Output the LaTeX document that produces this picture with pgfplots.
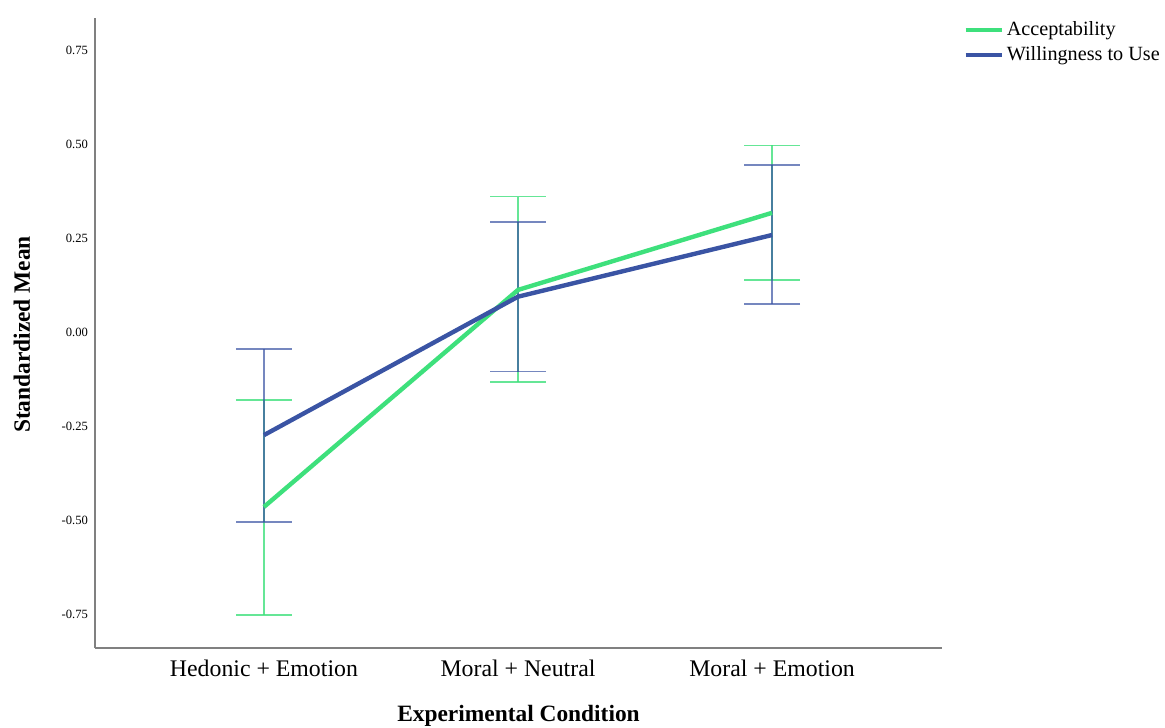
\documentclass[border=0pt]{standalone}
\usepackage{pgfplots}
\pgfplotsset{compat=1.18}
\usepackage{pgfplotstable}
\usepackage{fontspec}
\setmainfont{Liberation Serif}
\definecolor{gacc}{HTML}{3EE07C}
\definecolor{bwil}{HTML}{3A54A4}
\pgfplotstableread{
x y ep em
0 -0.465 0.284 0.288
1 0.112 0.248 0.245
2 0.317 0.179 0.178
}\acc
\pgfplotstableread{
x y ep em
0 -0.274 0.229 0.231
1 0.094 0.198 0.199
2 0.258 0.187 0.183
}\wil
\begin{document}
\begin{tikzpicture}
\useasboundingbox (0,0) rectangle (582.5pt,363.5pt);
\begin{axis}[
  at={(47.5pt,39.5pt)}, anchor=south west,
  scale only axis, width=423.5pt, height=315pt,
  xmin=-0.665, xmax=2.669, ymin=-0.840, ymax=0.835,
  axis x line*=bottom, axis y line*=left,
  axis line style={draw=black!50, line width=0.8pt, -},
  major tick length=0pt,
  xtick={0,1,2},
  xticklabels={Hedonic + Emotion, Moral + Neutral, Moral + Emotion},
  ytick={-0.75,-0.5,-0.25,0,0.25,0.5,0.75},
  yticklabel style={/pgf/number format/fixed, /pgf/number format/fixed zerofill, /pgf/number format/precision=2, /pgf/number format/assume math mode=true, font=\fontsize{6.3}{7}\selectfont},
  xticklabel style={font=\fontsize{11.9}{13}\selectfont, yshift=-2.4pt},
  xlabel={\textbf{Experimental Condition}},
  ylabel={\textbf{Standardized Mean}},
  xlabel style={at={(axis description cs:0.5,-0.1075)}, anchor=center, font=\fontsize{11.7}{13}\selectfont},
  ylabel style={at={(axis description cs:-0.0862,0.4976)}, anchor=center, font=\fontsize{11.7}{13}\selectfont},
  legend style={at={(axis description cs:1.0248,1.0)}, anchor=north west, draw=none, fill=none, inner sep=0pt, font=\fontsize{10.1}{12.5}\selectfont, nodes={inner sep=1.5pt}, row sep=1.2pt},
  legend cell align=left,
  legend image code/.code={\draw[#1, line width=2.2pt] (0pt,0pt) -- (18pt,0pt);},
  clip=false,
]
\addplot[forget plot, draw=none, mark=none, error bars/.cd, y dir=both, y explicit,
  error bar style={draw=gacc, opacity=0.8, line width=0.85pt},
  error mark options={draw=gacc, opacity=0.8, line width=0.85pt, rotate=90, mark size=14pt}]
  table[x=x, y=y, y error plus=ep, y error minus=em] {\acc};
\addplot[forget plot, draw=none, mark=none, error bars/.cd, y dir=both, y explicit,
  error bar style={draw=bwil, opacity=0.7, line width=0.85pt},
  error mark options={draw=bwil, opacity=0.7, line width=0.85pt, rotate=90, mark size=14pt}]
  table[x=x, y=y, y error plus=ep, y error minus=em] {\wil};
\addplot[gacc, line width=2.2pt, mark=none] table[x=x, y=y] {\acc};
\addlegendentry{Acceptability}
\addplot[bwil, line width=2.2pt, mark=none] table[x=x, y=y] {\wil};
\addlegendentry{Willingness to Use}
\end{axis}
\end{tikzpicture}
\end{document}
